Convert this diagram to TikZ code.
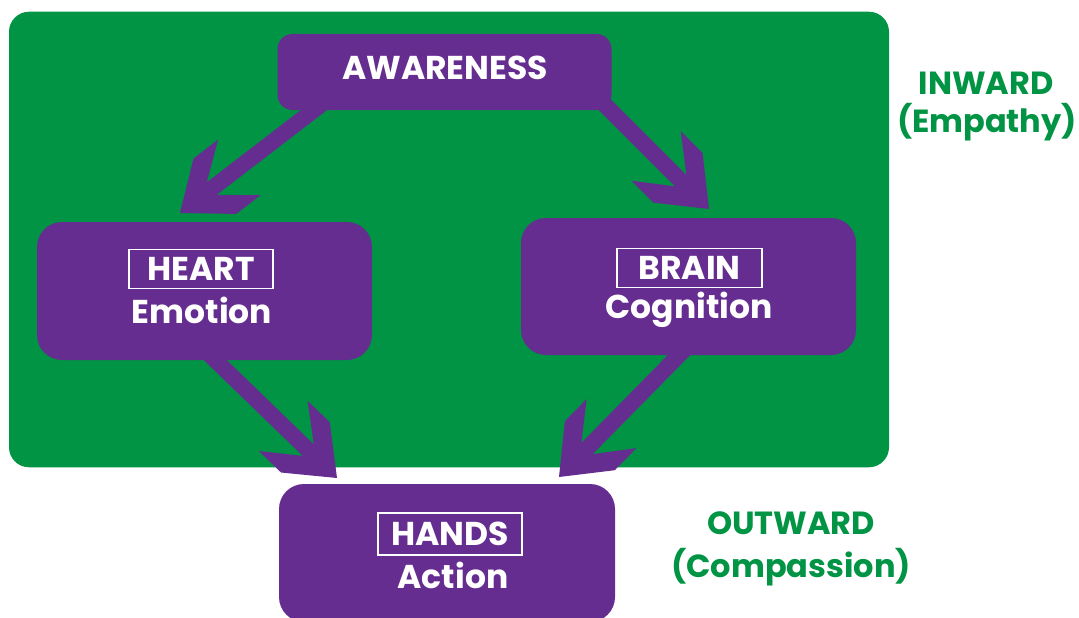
\documentclass[tikz,border=0pt]{standalone}
\usepackage{fontspec}
\setmainfont{Poppins}
\usetikzlibrary{calc}
\definecolor{grn}{RGB}{0,148,68}
\definecolor{purp}{RGB}{102,45,145}
\newcommand\fatarrow[2]{%
  \fill[purp] (#2)
    -- ($($(#2)!44pt!(#1)$)!35pt!90:(#1)$)
    -- ($($(#2)!75pt!(#1)$)!35pt!90:(#1)$)
    -- ($($(#2)!40pt!(#1)$)!8pt!90:(#1)$)
    -- ($(#1)!8pt!-90:(#2)$)
    -- ($(#1)!8pt!90:(#2)$)
    -- ($($(#2)!40pt!(#1)$)!8pt!-90:(#1)$)
    -- ($($(#2)!75pt!(#1)$)!35pt!-90:(#1)$)
    -- ($($(#2)!44pt!(#1)$)!35pt!-90:(#1)$)
    -- cycle;}
\begin{document}
\begin{tikzpicture}[x=1pt,y=-1pt,
  box/.style={fill=purp, rounded corners=25pt, inner sep=0pt},
  lbl/.style={text=white, font=\bfseries\fontsize{33}{38}\selectfont, anchor=base, inner sep=0pt},
  frm/.style={lbl, draw=white, line width=1.2pt, text height=22pt, text depth=0pt, inner ysep=8.5pt},
  side/.style={text=grn, font=\bfseries\fontsize{32}{37}\selectfont, anchor=base, inner sep=0pt}]
\clip (0,0) rectangle (1079,618);
\fill[white] (0,0) rectangle (1079,618);
\node[fill=grn, rounded corners=20pt, minimum width=880pt, minimum height=455.5pt, inner sep=0pt] (inward) at (449,239.5) {};
% arrow end points
\coordinate (s1) at (327,100); \coordinate (t1) at (180,213);
\coordinate (s2) at (599,99);  \coordinate (t2) at (709,209);
\coordinate (s3) at (208,353); \coordinate (t3) at (337,478);
\coordinate (s4) at (685,349); \coordinate (t4) at (559,477);
\fatarrow{s1}{t1}
\fatarrow{s2}{t2}
\fatarrow{s3}{t3}
\fatarrow{s4}{t4}
% nodes
\node[box, rounded corners=15pt, minimum width=334pt, minimum height=76pt] (aw) at (444.5,72) {};
\node[box, minimum width=335pt, minimum height=138pt] (heart) at (204.5,291) {};
\node[box, minimum width=335pt, minimum height=137pt] (brain) at (688.5,286.5) {};
\node[box, minimum width=336pt, minimum height=138pt] (hands) at (447,553) {};
% texts
\node[lbl] (awT) at (445,80) {AWARENESS};
\node[frm, minimum width=144pt] (heartT) at (201,280) {HEART};
\node[lbl] (heartS) at (202,323) {Emotion};
\node[frm, minimum width=145pt] (brainT) at (689.5,279) {BRAIN};
\node[lbl] (brainS) at (689,318) {Cognition};
\node[frm, minimum width=144pt, inner ysep=10pt] (handsT) at (450,545) {HANDS};
\node[lbl] (handsS) at (453,588) {Action};
\node[side] (inT) at (986,94) {INWARD};
\node[side] (inS) at (987,132) {(Empathy)};
\node[side] (outT) at (791,534) {OUTWARD};
\node[side] (outS) at (791,577) {(Compassion)};
\end{tikzpicture}
\end{document}
